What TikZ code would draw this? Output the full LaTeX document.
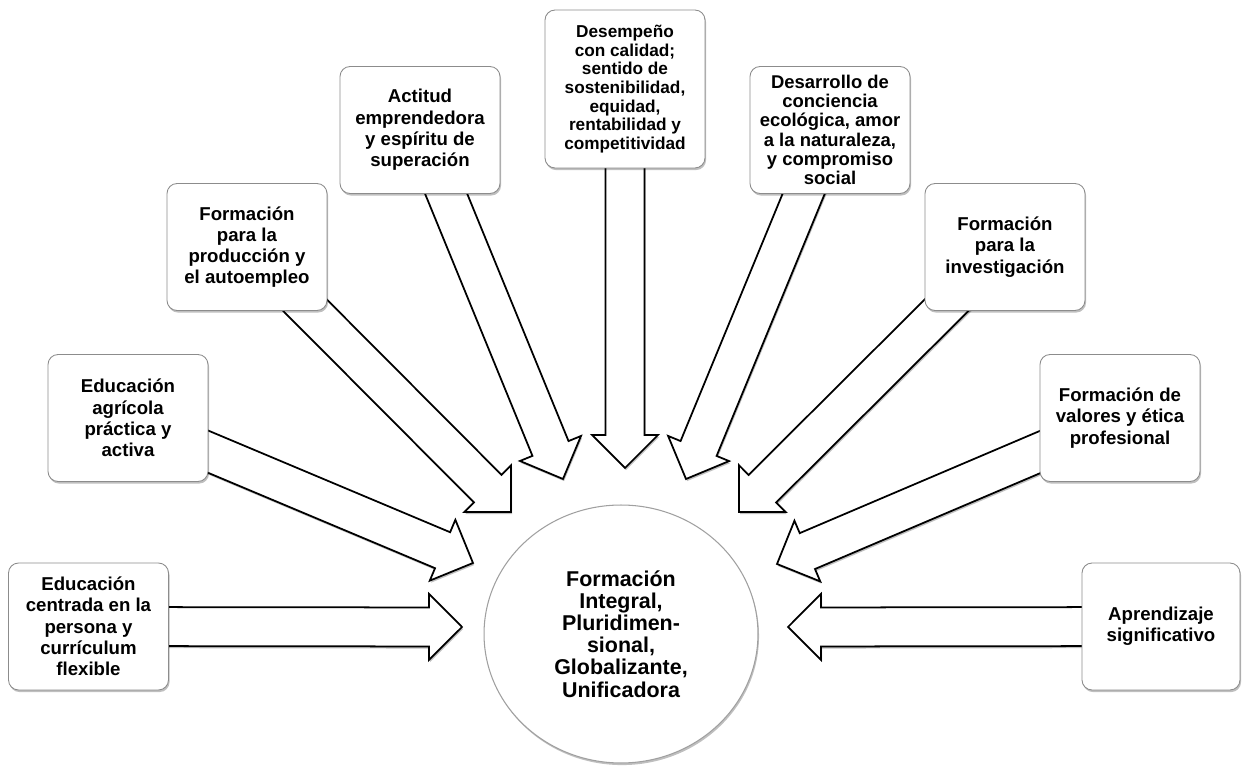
\documentclass[tikz,border=0pt]{standalone}
\usepackage{fontspec}
\setmainfont{Liberation Sans}
\usetikzlibrary{calc,shadows,shapes.geometric}

\definecolor{boxline}{RGB}{140,140,140}
\definecolor{ringline}{RGB}{160,160,160}

\pgfdeclarelayer{back}
\pgfsetlayers{back,main}

\tikzset{
  soft shadow/.style={drop shadow={shadow xshift=0.6pt,shadow yshift=-1.2pt,opacity=0.25,fill=black}},
  topic/.style={draw=boxline,fill=white,rounded corners=0.2cm,line width=0.5pt,
    minimum width=3.2cm,minimum height=2.54cm,inner sep=1pt,align=center,
    font=\bfseries\fontsize{10.6}{12.1}\selectfont,soft shadow},
  core/.style={ellipse,draw=ringline,fill=white,line width=0.6pt,
    minimum width=5.48cm,minimum height=5.16cm,inner sep=0pt,align=center,
    font=\bfseries\fontsize{12.2}{12.6}\selectfont,soft shadow},
  blockarrow/.style={draw=black,fill=white,line width=1pt,line join=miter,soft shadow}
}

\newcommand{\bigarrow}[2]{%
  \coordinate (hb) at ($(#2)!0.66cm!(#1)$);
  \draw[blockarrow] ($(#1)!0.39cm!90:(#2)$) -- ($(hb)!0.39cm!90:(#2)$)
    -- ($(hb)!0.66cm!90:(#2)$) -- (#2) -- ($(hb)!0.66cm!-90:(#2)$)
    -- ($(hb)!0.39cm!-90:(#2)$) -- ($(#1)!0.39cm!-90:(#2)$) -- cycle;}

\begin{document}
\begin{tikzpicture}[x=0.02cm,y=-0.02cm]
	\useasboundingbox (0,0) rectangle (1245,766);

	\node[topic] (qCentrada) at (88.5,626.5) {Educación\\centrada en la\\persona y\\currículum\\flexible};
	\node[topic] (qAgricola) at (128,418) {Educación\\agrícola\\práctica y\\activa};
	\node[topic] (qProd) at (247,247) {Formación\\para la\\producción y\\el autoempleo};
	\node[topic] (qActitud) at (420,130) {Actitud\\emprendedora\\y espíritu de\\superación};
	\node[topic,minimum height=3.16cm,font=\bfseries\fontsize{9.8}{10.6}\selectfont] (qDesemp) at (625,89)
		{Desempeño\\con calidad;\\sentido de\\sostenibilidad,\\equidad,\\rentabilidad y\\competitividad};
	\node[topic,font=\bfseries\fontsize{10.5}{11}\selectfont] (qEcol) at (830,130)
		{Desarrollo de\\conciencia\\ecológica, amor\\a la naturaleza,\\y compromiso\\social};
	\node[topic] (qInv) at (1005,247) {Formación\\para la\\investigación};
	\node[topic] (qValores) at (1120,418) {Formación de\\valores y ética\\profesional};
	\node[topic,minimum width=3.16cm] (qAprend) at (1161,626.5) {Aprendizaje\\significativo};

	\node[core] (qIntegral) at (621,634) {Formación\\Integral,\\Pluridimen-\\sional,\\Globalizante,\\Unificadora};

	\coordinate (t1) at (462,627);
	\coordinate (t2) at (473,563);
	\coordinate (t3) at (511,512);
	\coordinate (t4) at (563,479);
	\coordinate (t5) at (625,468);
	\coordinate (t6) at (686,479);
	\coordinate (t7) at (739,512);
	\coordinate (t8) at (777,564);
	\coordinate (t9) at (788,627);

	\begin{pgfonlayer}{back}
		\bigarrow{qCentrada.center}{t1}
		\bigarrow{qAgricola.center}{t2}
		\bigarrow{qProd.center}{t3}
		\bigarrow{qActitud.center}{t4}
		\bigarrow{qDesemp.center}{t5}
		\bigarrow{qEcol.center}{t6}
		\bigarrow{qInv.center}{t7}
		\bigarrow{qValores.center}{t8}
		\bigarrow{qAprend.center}{t9}
	\end{pgfonlayer}
\end{tikzpicture}
\end{document}
